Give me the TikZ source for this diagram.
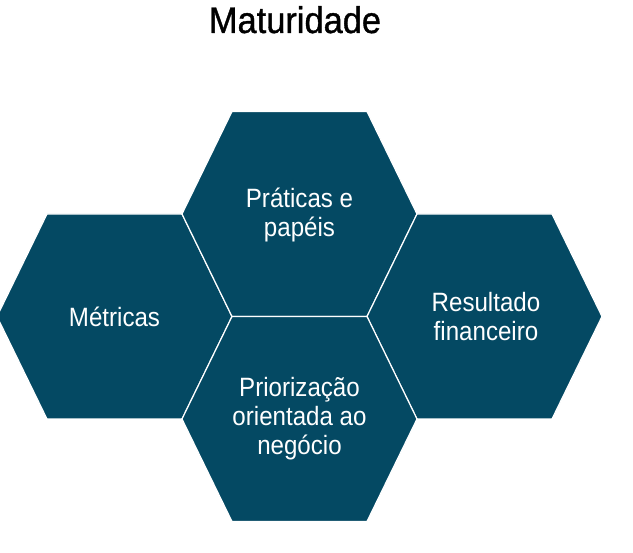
\documentclass[tikz,border=0pt]{standalone}
\usepackage{fontspec}
\setmainfont{Liberation Sans}[FakeStretch=0.91]
\newfontfamily\titlefont{Liberation Sans}[FakeStretch=0.93,FakeBold=1]
\usepackage{tikz}
\usepackage{xcolor}
\usetikzlibrary{positioning}
\definecolor{cellblue}{RGB}{4,73,99}
\tikzset{
  hexcell/.style={fill=cellblue,draw=white,line width=1.2pt,line join=miter},
  celltext/.style={text=white,align=center,font=\fontsize{26.5}{29}\selectfont},
  titletext/.style={font=\titlefont\fontsize{37}{40}\selectfont,anchor=base},
}

\begin{document}
\begin{tikzpicture}[x=1pt,y=-1pt]
  \useasboundingbox (0,0) rectangle (633,553);
  % Four hexagonal cells (half width 117.5, half edge 67.5, half height 102.5)
  \foreach \cx/\cy in {114.5/316.5, 299.5/214, 484.5/316.5, 299.5/419}
    \draw[hexcell] (\cx-117.5,\cy) -- ++(50,-102.5) -- ++(135,0) -- ++(50,102.5)
      -- ++(-50,102.5) -- ++(-135,0) -- cycle;
  \node[titletext] (title) at (295,33) {Maturidade};
  \node[celltext] (metricas)   at (114.5,316.5) {Métricas};
  \node[celltext] (praticas)   at (299.5,215)   {Práticas e\\papéis};
  \node[celltext] (resultado)  at (486,316.5)   {Resultado\\financeiro};
  \node[celltext] (priorizacao) at (299.5,419)  {Priorização\\orientada ao\\negócio};
\end{tikzpicture}
\end{document}
